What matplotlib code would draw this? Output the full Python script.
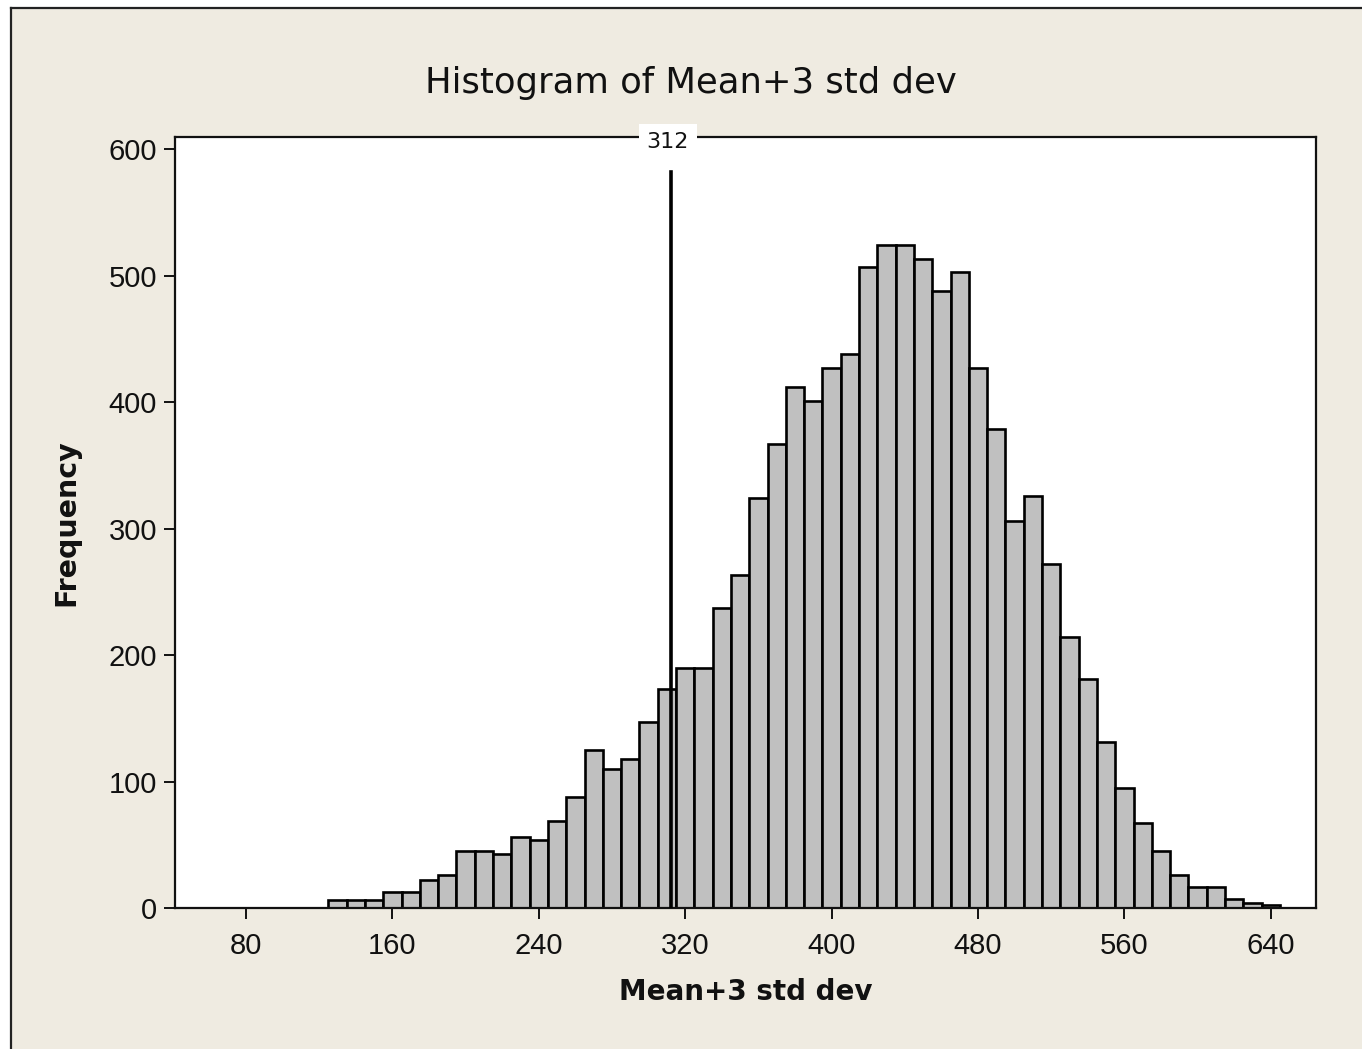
import matplotlib
matplotlib.use("Agg")
import matplotlib.pyplot as plt
from matplotlib.patches import Rectangle
from matplotlib.lines import Line2D
from matplotlib.transforms import offset_copy

# ---- data ----
bin_midpoints = list(range(130, 641, 10))
counts = [6, 6, 6, 13, 13, 22, 26, 45, 45, 43, 56, 54, 69, 88, 125, 110, 118, 147,
          173, 190, 190, 237, 263, 324, 367, 412, 401, 427, 438, 507, 524, 524, 513, 488,
          503, 427, 379, 306, 326, 272, 214, 181, 131, 95, 67, 45, 26, 17, 17, 7, 4, 2]
bin_width = 10
x_ticks = [80, 160, 240, 320, 400, 480, 560, 640]
y_ticks = [0, 100, 200, 300, 400, 500, 600]
ref_value = 312
title = "Histogram of Mean+3 std dev"
xlabel = "Mean+3 std dev"
ylabel = "Frequency"

W, H = 1362, 1049
BG = "#EFEBE1"
fig = plt.figure(figsize=(W / 100, H / 100), dpi=100, facecolor="white")

# beige panel with dark border at left/top
fig.patches.append(Rectangle((11 / W, 0), 1, 1 - 9 / H, transform=fig.transFigure,
                             facecolor=BG, edgecolor="none", zorder=-10))
fig.lines.append(Line2D([11 / W, 11 / W], [0, 1 - 8 / H], transform=fig.transFigure,
                        color="#222222", lw=1.6, zorder=-5))
fig.lines.append(Line2D([11 / W, 1], [1 - 8 / H, 1 - 8 / H], transform=fig.transFigure,
                        color="#222222", lw=1.6, zorder=-5))

left, right, top, bottom = 175, 1316, 136.6, 908
ax = fig.add_axes([left / W, 1 - bottom / H, (right - left) / W, (bottom - top) / H])
ax.set_zorder(1)
ax.set_facecolor("white")

ax.bar(bin_midpoints, counts, width=bin_width, color="#C0C0C0", edgecolor="black",
       linewidth=1.9, zorder=2)

ax.set_xlim(41.2, 664.7)
ax.set_ylim(0, 610)
ax.set_xticks(x_ticks)
ax.set_yticks(y_ticks)

tick_font = dict(family="Liberation Sans", size=21)
ax.set_xticklabels([str(v) for v in x_ticks], fontdict=tick_font, color="#111111")
ax.set_yticklabels([str(v) for v in y_ticks], fontdict=tick_font, color="#111111")
ax.tick_params(axis="both", direction="out", length=8, width=1.4, color="#111111")
ax.tick_params(axis="x", pad=9)
ax.tick_params(axis="y", pad=5)
ax.tick_params(top=False, right=False)
for s in ax.spines.values():
    s.set_linewidth(1.6)
    s.set_color("#111111")

# reference line
ax.axvline(ref_value, ymin=0, ymax=0.954, color="black", lw=2.6, zorder=3)
label_tr = offset_copy(ax.get_xaxis_transform(), fig=fig, x=-2, y=-4, units="points")
ax.text(ref_value, 1.0, str(ref_value), transform=label_tr,
        ha="center", va="center", fontsize=16, family="DejaVu Sans", color="#111111",
        bbox=dict(boxstyle="square,pad=0.35", facecolor="white", edgecolor="none"),
        zorder=5, clip_on=False)

ax.set_xlabel(xlabel, fontsize=20, family="DejaVu Sans", fontweight="bold",
              color="#111111", labelpad=13)
ax.set_ylabel(ylabel, fontsize=20.5, family="DejaVu Sans", fontweight="bold",
              color="#111111", labelpad=20)

fig.text(691 / W, 1 - 83 / H, title, ha="center", va="center", fontsize=25.5,
         family="DejaVu Sans", color="#111111")

fig.savefig("out.png", dpi=100, facecolor=fig.get_facecolor())
